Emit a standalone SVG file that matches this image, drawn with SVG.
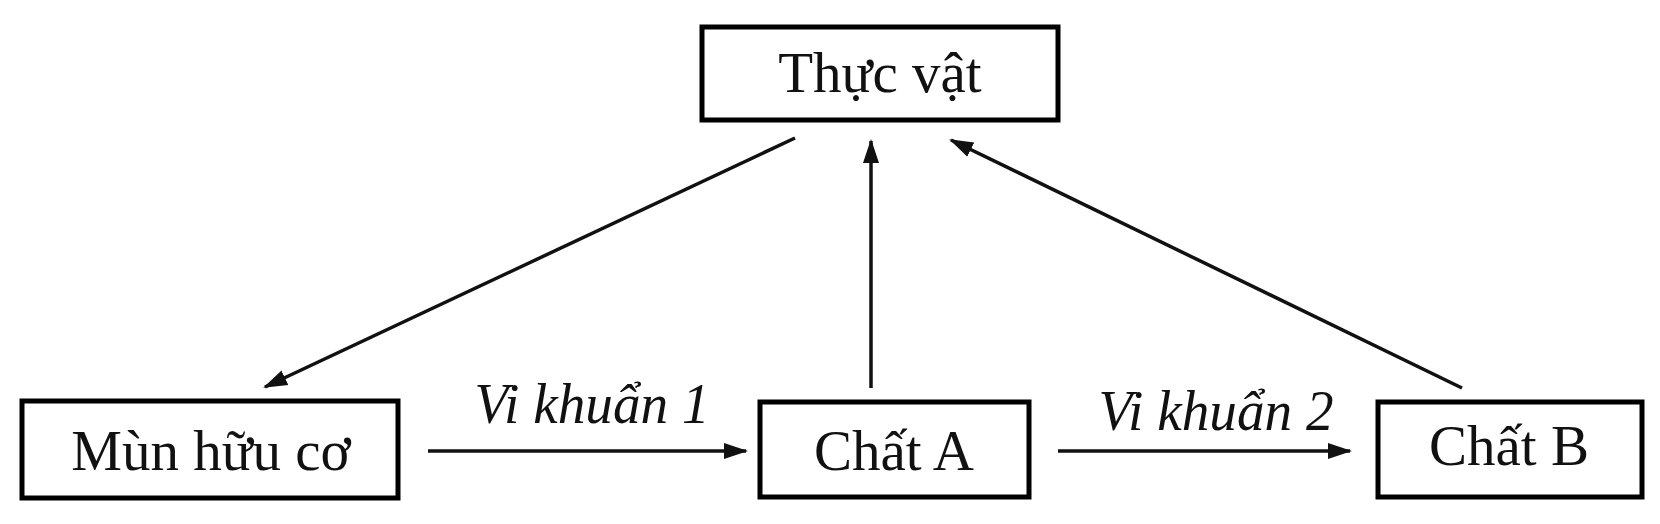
<svg xmlns="http://www.w3.org/2000/svg" width="1660" height="524" viewBox="0 0 1660 524">
<style>
.box{fill:#fff;stroke:#000;stroke-width:5}
.lbl{font-family:"Liberation Serif","Times New Roman",serif;font-size:57px;fill:#111;text-anchor:middle}
.it{font-family:"Liberation Serif","Times New Roman",serif;font-size:56px;font-style:italic;fill:#111;text-anchor:middle}
.arr{stroke:#111;stroke-width:3.5;fill:none;marker-end:url(#ah)}
</style>
<defs>
<marker id="ah" markerUnits="userSpaceOnUse" markerWidth="24" markerHeight="18" viewBox="0 0 24 18" refX="22" refY="9" orient="auto">
<path d="M0,1 L24,9 L0,17 Z" fill="#111"/>
</marker>
</defs>
<rect width="1660" height="524" fill="#fff"/>
<g id="connectors">
<line class="arr" x1="795" y1="138" x2="265" y2="387"/>
<line class="arr" x1="871" y1="388" x2="871" y2="141"/>
<line class="arr" x1="1462" y1="388" x2="951" y2="140"/>
<line class="arr" x1="428" y1="451" x2="746" y2="451"/>
<line class="arr" x1="1058" y1="451" x2="1350" y2="451"/>
<text class="it" x="592" y="423" textLength="235" lengthAdjust="spacingAndGlyphs">Vi khuẩn 1</text>
<text class="it" x="1216" y="430" textLength="235" lengthAdjust="spacingAndGlyphs">Vi khuẩn 2</text>
</g>
<g id="thuc-vat">
<rect class="box" x="702" y="27" width="356" height="93"/>
<text class="lbl" x="880" y="92">Thực vật</text>
</g>
<g id="mun-huu-co">
<rect class="box" x="22" y="401" width="376" height="97"/>
<text class="lbl" x="211" y="470">Mùn hữu cơ</text>
</g>
<g id="chat-a">
<rect class="box" x="760" y="402" width="269" height="95"/>
<text class="lbl" x="894" y="470">Chất A</text>
</g>
<g id="chat-b">
<rect class="box" x="1378" y="402" width="264" height="95"/>
<text class="lbl" x="1509" y="465">Chất B</text>
</g>
</svg>
